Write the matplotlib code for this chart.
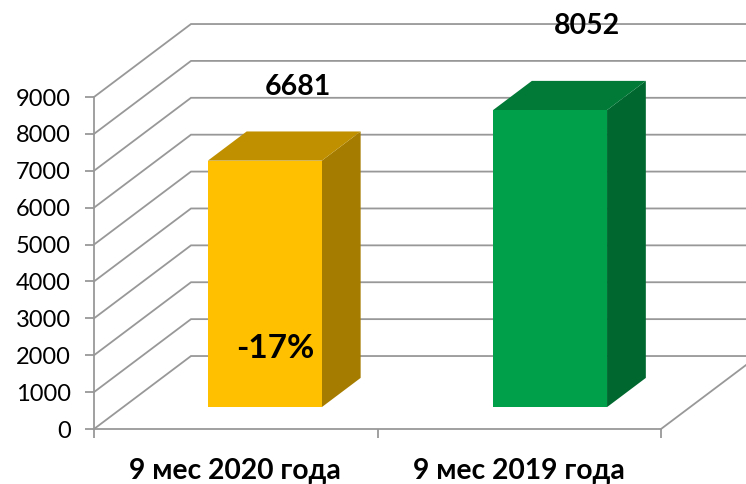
import matplotlib
matplotlib.use('Agg')
import matplotlib.pyplot as plt
from matplotlib.patches import Polygon

categories = ['9 мес 2020 года', '9 мес 2019 года']
values = [6681, 8052]
y_ticks = [0, 1000, 2000, 3000, 4000, 5000, 6000, 7000, 8000, 9000]

front_colors = ['#FFC000', '#00A04A']
top_colors = ['#C09000', '#007A36']
side_colors = ['#A67C00', '#00682F']
grid_color = '#989898'

# shear of the fake 3D box, in data units per full depth
DX = 97 / 283.5
DY = 73 / 36.9 * 1000
BAR_WIDTH = 0.402
DEPTH_FRONT = 0.3
DEPTH_BACK = 0.7
bar_centers = [0.5, 1.506]


def project(x, v, d):
    return (x + d * DX, v + d * DY)


plt.rcParams['font.family'] = ['Lato', 'DejaVu Sans']

fig = plt.figure(figsize=(7.46, 4.84), dpi=100)
ax = fig.add_axes([94 / 746, (484 - 429) / 484, 567 / 746, 332 / 484])
ax.set_xlim(0, 2)
ax.set_ylim(0, 9000)

for s in ['top', 'right']:
    ax.spines[s].set_visible(False)
for s in ['left', 'bottom']:
    ax.spines[s].set_color(grid_color)
    ax.spines[s].set_linewidth(1.3)

ax.set_yticks(y_ticks)
ax.set_xticks([0, 1, 2])
ax.set_xticklabels([])
ax.tick_params(axis='both', color=grid_color, width=1.3, length=6.5)
ax.tick_params(axis='y', labelsize=17, pad=10, labelcolor='black')

# wall and floor lines
for v in y_ticks:
    x0, y0 = project(0, v, 1)
    x1, y1 = project(2, v, 1)
    ax.plot([0, x0, x1], [v, y0, y1], color=grid_color, lw=1.3,
            clip_on=False, zorder=1, solid_joinstyle='miter')
ax.plot([2, project(2, 0, 1)[0]], [0, project(2, 0, 1)[1]], color=grid_color,
        lw=1.3, clip_on=False, zorder=1)

# bars
for i, val in enumerate(values):
    left = bar_centers[i] - BAR_WIDTH / 2
    right = bar_centers[i] + BAR_WIDTH / 2
    front = [project(left, 0, DEPTH_FRONT), project(right, 0, DEPTH_FRONT),
             project(right, val, DEPTH_FRONT), project(left, val, DEPTH_FRONT)]
    top = [project(left, val, DEPTH_FRONT), project(right, val, DEPTH_FRONT),
           project(right, val, DEPTH_BACK), project(left, val, DEPTH_BACK)]
    side = [project(right, 0, DEPTH_FRONT), project(right, 0, DEPTH_BACK),
            project(right, val, DEPTH_BACK), project(right, val, DEPTH_FRONT)]
    ax.add_patch(Polygon(side, closed=True, fc=side_colors[i], ec='none', clip_on=False, zorder=3))
    ax.add_patch(Polygon(top, closed=True, fc=top_colors[i], ec='none', clip_on=False, zorder=3))
    ax.add_patch(Polygon(front, closed=True, fc=front_colors[i], ec='none', clip_on=False, zorder=4))

# labels were dragged by hand in the original, so offsets differ per bar
label_offsets = [(14, 59), (17, 69)]
for i, val in enumerate(values):
    xy = project(bar_centers[i], val, 0.5)
    ax.annotate(str(val), xy=xy, xytext=(label_offsets[i][0] * 0.72, label_offsets[i][1] * 0.72),
                textcoords='offset points', ha='center', va='center',
                fontsize=20.5, fontweight='bold', color='black', zorder=6,
                annotation_clip=False)

ax.annotate('-17%', xy=project(bar_centers[0], 0, DEPTH_FRONT), xytext=(10 * 0.72, 59 * 0.72),
            textcoords='offset points', ha='center', va='center',
            fontsize=24, fontweight='bold', color='black', zorder=6)

# category labels sit under the gaps between ticks, a bit off center
cat_x = [235, 519]
for name, px in zip(categories, cat_x):
    ax.text((px - 94) / 283.5, -1130, name, ha='center', va='center',
            fontsize=20.3, fontweight='bold', color='black', clip_on=False)

fig.savefig('out.png', dpi=100)
